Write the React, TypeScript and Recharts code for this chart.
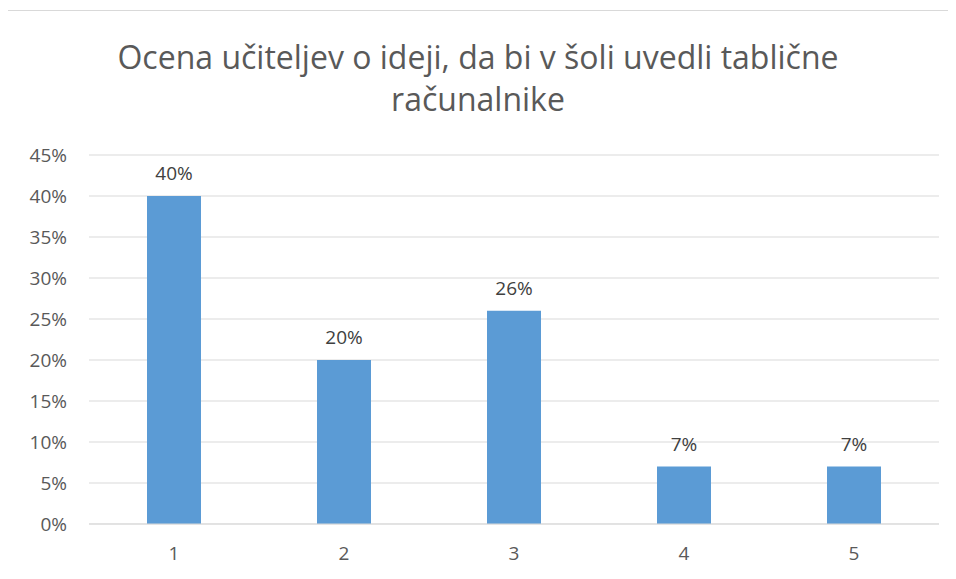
import { BarChart, Bar, XAxis, YAxis, CartesianGrid, LabelList } from 'recharts';

const categories = ['1', '2', '3', '4', '5'];
const shares = [0.4, 0.2, 0.26, 0.07, 0.07];
const yTicks = [0, 0.05, 0.1, 0.15, 0.2, 0.25, 0.3, 0.35, 0.4, 0.45];
const titleLines = ['Ocena učiteljev o ideji, da bi v šoli uvedli tablične', 'računalnike'];

const FONT = '"Open Sans", sans-serif';
const pct = (v: number) => `${Math.round(v * 100)}%`;

export default function App() {
  const chartData = categories.map((c, i) => ({ name: c, value: shares[i] }));

  return (
    <div style={{ position: 'relative', width: 948, height: 571, fontFamily: FONT }}>
      {/* chart frame, only top and left edges are visible in the crop */}
      <div
        style={{
          position: 'absolute',
          left: -1,
          top: 2,
          width: 960,
          height: 600,
          borderTop: '1px solid #d9d9d9',
          borderLeft: '1px solid #d9d9d9',
        }}
      />
      <div
        style={{
          position: 'absolute',
          left: 0,
          top: 28,
          width: 940,
          textAlign: 'center',
          color: '#595959',
          fontSize: 32,
          lineHeight: '42px',
        }}
      >
        {titleLines.map((t) => (
          <div key={t}>{t}</div>
        ))}
      </div>
      <div style={{ position: 'absolute', left: 0, top: 0 }}>
        <BarChart
          width={948}
          height={571}
          data={chartData}
          margin={{ top: 147, right: 17, bottom: 25, left: 21 }}
        >
          <CartesianGrid vertical={false} stroke="#d9d9d9" strokeWidth={1} />
          <XAxis
            dataKey="name"
            axisLine={{ stroke: '#d9d9d9' }}
            tickLine={false}
            height={30}
            tick={{ fill: '#595959', fontSize: 19, fontFamily: FONT }}
            tickMargin={17}
          />
          <YAxis
            domain={[0, 0.45]}
            ticks={yTicks}
            tickFormatter={pct}
            axisLine={false}
            tickLine={false}
            width={60}
            interval={0}
            tick={{ fill: '#595959', fontSize: 19, fontFamily: FONT }}
            tickMargin={16}
          />
          <Bar dataKey="value" fill="#5b9bd5" barSize={54} isAnimationActive={false}>
            <LabelList
              dataKey="value"
              position="top"
              offset={16}
              formatter={(v: any) => pct(Number(v))}
              style={{ fill: '#404040', fontSize: 19, fontFamily: FONT }}
            />
          </Bar>
        </BarChart>
      </div>
    </div>
  );
}
